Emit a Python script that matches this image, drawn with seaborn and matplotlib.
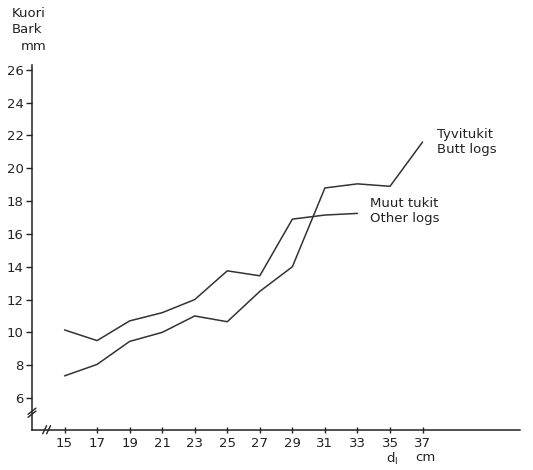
import matplotlib
matplotlib.use("Agg")
import matplotlib.pyplot as plt
import seaborn as sns
import pandas as pd

# Data
diam_other = [15, 17, 19, 21, 23, 25, 27, 29, 31, 33]
bark_other = [10.15, 9.5, 10.7, 11.2, 12.0, 13.75, 13.45, 16.9, 17.15, 17.25]
diam_butt = [15, 17, 19, 21, 23, 25, 27, 29, 31, 33, 35, 37]
bark_butt = [7.35, 8.05, 9.45, 10.0, 11.0, 10.65, 12.5, 14.0, 18.8, 19.05, 18.9, 21.6]
x_ticks = [15, 17, 19, 21, 23, 25, 27, 29, 31, 33, 35, 37]
y_ticks = [6, 8, 10, 12, 14, 16, 18, 20, 22, 24, 26]

df = pd.concat([
    pd.DataFrame({"d": diam_other, "bark": bark_other, "series": "Other logs"}),
    pd.DataFrame({"d": diam_butt, "bark": bark_butt, "series": "Butt logs"}),
])

sns.set_style("ticks")
plt.rcParams['font.family'] = ['DejaVu Sans']
plt.rcParams['font.size'] = 9.5

fig = plt.figure(figsize=(5.33, 4.70), dpi=100)
ax = fig.add_axes([0.06, 0.085, 0.916, 0.777])

sns.lineplot(data=df, x="d", y="bark", hue="series", units="series", estimator=None,
             palette={"Other logs": "#333333", "Butt logs": "#333333"},
             linewidth=1.1, legend=False, ax=ax, sort=False)

ax.set_xlim(13, 43)
ax.set_ylim(4.05, 26.3)
ax.set_xticks(x_ticks)
ax.set_yticks(y_ticks)
ax.set_xlabel("")
ax.set_ylabel("")
sns.despine(ax=ax)
for s in ["left", "bottom"]:
    ax.spines[s].set_color("#222222")
    ax.spines[s].set_linewidth(1.1)
ax.tick_params(axis="y", direction="out", length=4, width=1, pad=2, colors="#222222")
ax.tick_params(axis="x", direction="inout", length=4, width=1, pad=3, colors="#222222")

# axis break marks
kw = dict(transform=ax.transAxes, color="#222222", lw=1, clip_on=False)
for dy in (0.0, 0.008):
    ax.plot([-0.008, 0.008], [0.035 + dy, 0.052 + dy], **kw)
for dx in (0.0, 0.008):
    ax.plot([0.022 + dx, 0.030 + dx], [-0.01, 0.012], **kw)

# axis titles
fig.text(0.022, 0.972, "Kuori", fontsize=9.5, color="#222222", va="center")
fig.text(0.022, 0.937, "Bark", fontsize=9.5, color="#222222", va="center")
fig.text(0.038, 0.900, "mm", fontsize=9.5, color="#222222", va="center")
fig.text(0.724, 0.024, r"d$_\mathregular{l}$", fontsize=9.5, color="#222222", va="center")
fig.text(0.779, 0.026, "cm", fontsize=9.5, color="#222222", va="center")

# series labels
ax.text(37.9, 21.6, "Tyvitukit\nButt logs", fontsize=9.5, color="#222222",
        va="center", ha="left", linespacing=1.25)
ax.text(33.8, 17.4, "Muut tukit\nOther logs", fontsize=9.5, color="#222222",
        va="center", ha="left", linespacing=1.25)

fig.savefig("out.png", dpi=100)
